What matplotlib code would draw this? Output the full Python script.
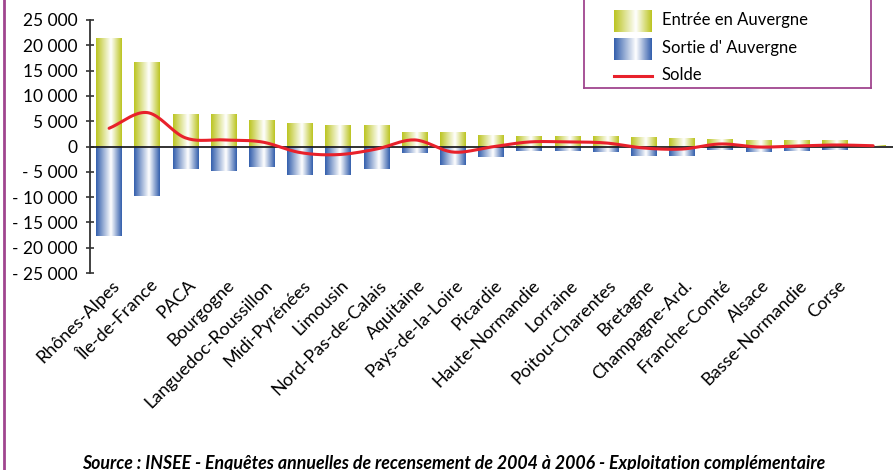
import numpy as np
import matplotlib
matplotlib.use("Agg")
import matplotlib.pyplot as plt
from matplotlib.colors import LinearSegmentedColormap
from matplotlib.lines import Line2D
from matplotlib.ticker import FuncFormatter
from matplotlib.transforms import ScaledTranslation

regions = ["Rhônes-Alpes", "Île-de-France", "PACA", "Bourgogne",
           "Languedoc-Roussillon", "Midi-Pyrénées", "Limousin",
           "Nord-Pas-de-Calais", "Aquitaine", "Pays-de-la-Loire", "Picardie",
           "Haute-Normandie", "Lorraine", "Poitou-Charentes", "Bretagne",
           "Champagne-Ard.", "Franche-Comté", "Alsace", "Basse-Normandie",
           "Corse", ""]
entree = [21200, 16500, 6200, 6200, 5000, 4400, 4000, 4000, 2600, 2600, 2000,
          1800, 1800, 1800, 1600, 1400, 1200, 1000, 1000, 1000, 150]
sortie = [17600, 9800, 4500, 4900, 4100, 5600, 5600, 4500, 1300, 3700, 2100,
          900, 900, 1100, 1900, 1900, 700, 1100, 900, 700, 0]
y_ticks = list(range(-25000, 25001, 5000))

plt.rcParams['font.family'] = ['Lato', 'DejaVu Sans']

GREEN = "#bcc522"
BLUE = "#3560ad"
RED = "#e8212b"
PURPLE = "#a0458f"

cmap_in = LinearSegmentedColormap.from_list("in", [(0, GREEN), (0.58, "white"), (1, GREEN)])
cmap_out = LinearSegmentedColormap.from_list("out", [(0, BLUE), (0.58, "white"), (1, BLUE)])
grad = np.linspace(0, 1, 64).reshape(1, -1)


def smooth(xs, ys, n=20):
    # courbe lissée type Catmull-Rom passant par chaque point
    xs = np.asarray(xs, float)
    ys = np.asarray(ys, float)
    px = np.concatenate([[2 * xs[0] - xs[1]], xs, [2 * xs[-1] - xs[-2]]])
    py = np.concatenate([[2 * ys[0] - ys[1]], ys, [2 * ys[-1] - ys[-2]]])
    t = np.linspace(0, 1, n, endpoint=False)
    out_x, out_y = [], []
    for i in range(1, len(px) - 2):
        for p, out in ((px, out_x), (py, out_y)):
            p0, p1, p2, p3 = p[i - 1], p[i], p[i + 1], p[i + 2]
            out.extend(0.5 * (2 * p1 + (-p0 + p2) * t
                              + (2 * p0 - 5 * p1 + 4 * p2 - p3) * t ** 2
                              + (-p0 + 3 * p1 - 3 * p2 + p3) * t ** 3))
    out_x.append(xs[-1])
    out_y.append(ys[-1])
    return np.array(out_x), np.array(out_y)


fig = plt.figure(figsize=(8.93, 4.70), dpi=100, facecolor="white")
ax = fig.add_axes([90 / 893, 1 - 273 / 470, 803 / 893, 253 / 470])

x = np.arange(len(regions))
w = 0.68
for xi, e, s in zip(x, entree, sortie):
    ax.imshow(grad, cmap=cmap_in, extent=(xi - w / 2, xi + w / 2, 0, e),
              aspect="auto", zorder=2, interpolation="bilinear")
    if s:
        ax.imshow(grad, cmap=cmap_out, extent=(xi - w / 2, xi + w / 2, -s, 0),
                  aspect="auto", zorder=2, interpolation="bilinear")

solde = [e - s for e, s in zip(entree, sortie)]
sx, sy = smooth(x, solde)
ax.plot(sx, sy, color=RED, lw=2.2, zorder=4, solid_capstyle="round")
ax.axhline(0, color="#222222", lw=1.3, zorder=3)

ax.set_xlim(-0.5, 20.52)
ax.set_ylim(-25000, 25000)
ax.set_yticks(y_ticks)
ax.yaxis.set_major_formatter(FuncFormatter(
    lambda v, p: ("- " if v < 0 else "") + f"{abs(int(v)):,}".replace(",", " ")))
ax.tick_params(axis="y", direction="inout", length=6, width=1.2,
               color="#333333", labelsize=12.5, pad=6)
ax.set_xticks(x)
ax.set_xticklabels(regions, rotation=45, ha="right", va="center",
                   rotation_mode="anchor", fontsize=13)
ax.tick_params(axis="x", length=0, pad=7)
shift = ScaledTranslation(8 / 100, 0, fig.dpi_scale_trans)
for lab in ax.get_xticklabels():
    lab.set_transform(lab.get_transform() + shift)
for side in ("top", "right", "bottom"):
    ax.spines[side].set_visible(False)
ax.spines["left"].set_color("#333333")
ax.spines["left"].set_linewidth(1.3)

# cadre de légende (haut coupé)
lg = fig.add_axes([584 / 893, 1 - 88 / 470, 287 / 893, 98 / 470])
lg.set_xticks([])
lg.set_yticks([])
for sp in lg.spines.values():
    sp.set_color(PURPLE)
    sp.set_linewidth(1.3)
lg.imshow(grad, cmap=cmap_in, extent=(614, 652, 32, 10), aspect="auto",
          interpolation="bilinear")
lg.imshow(grad, cmap=cmap_out, extent=(614, 652, 60, 38), aspect="auto",
          interpolation="bilinear")
lg.plot([614, 652], [75.5, 75.5], color=RED, lw=2.2)
lg.set_xlim(584, 871)
lg.set_ylim(88, -10)
for ty, label in ((20, "Entrée en Auvergne"), (48, "Sortie d' Auvergne"), (75, "Solde")):
    lg.text(662, ty, label, fontsize=12, va="center", ha="left")

fig.add_artist(Line2D([3.5 / 893, 3.5 / 893], [0, 1], color=PURPLE, lw=2,
                      transform=fig.transFigure))

fig.text(454 / 893, 1 - 463 / 470,
         "Source : INSEE - Enquêtes annuelles de recensement de 2004 à 2006 - Exploitation complémentaire",
         ha="center", va="center", fontsize=12.8, fontweight="bold", style="italic")

fig.savefig("out.png", dpi=100)
